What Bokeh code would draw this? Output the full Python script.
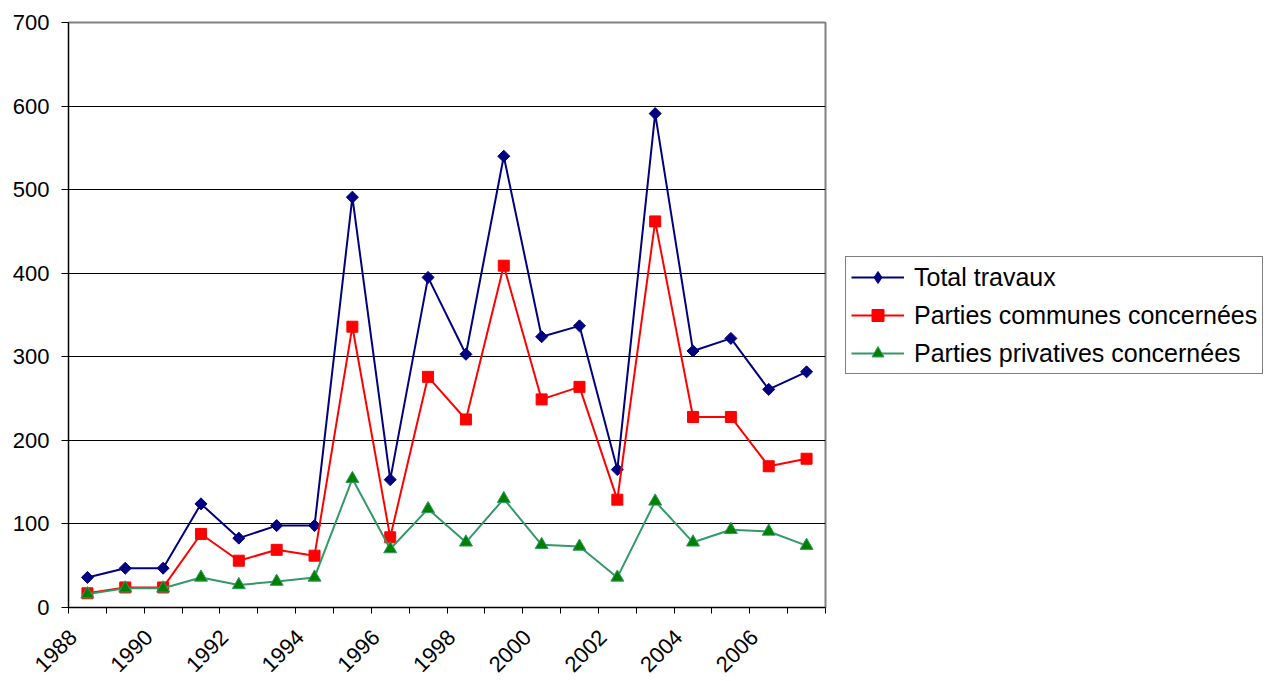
import math
from bokeh.plotting import figure
from bokeh.layouts import row
from bokeh.models import FixedTicker, Legend, LegendItem, Range1d
from bokeh.embed import file_html
from bokeh.resources import INLINE

# ---- data ----
years = [1988, 1989, 1990, 1991, 1992, 1993, 1994, 1995, 1996, 1997,
         1998, 1999, 2000, 2001, 2002, 2003, 2004, 2005, 2006, 2007]
total_travaux = [36, 47, 47, 124, 83, 98, 98, 491, 153, 395,
                 303, 540, 324, 337, 165, 591, 307, 322, 261, 282]
parties_communes = [17, 24, 24, 88, 56, 69, 62, 336, 84, 276,
                    225, 409, 249, 264, 129, 462, 228, 228, 169, 178]
parties_privatives = [16, 23, 23, 36, 27, 31, 36, 154, 70, 118,
                      78, 130, 75, 73, 36, 127, 78, 93, 91, 74]

x_tick_years = [1988, 1990, 1992, 1994, 1996, 1998, 2000, 2002, 2004, 2006]
x_tick_labels = ["1988", "1990", "1992", "1994", "1996", "1998", "2000", "2002", "2004", "2006"]
y_ticks = [0, 100, 200, 300, 400, 500, 600, 700]
grid_ticks = [100, 200, 300, 400, 500, 600]
series_names = ["Total travaux", "Parties communes concernées", "Parties privatives concernées"]

FONT = "Liberation Sans"
navy, red, green_line, green_fill = "#000080", "#FF0000", "#339966", "#008000"

# ---------------- main chart ----------------
p = figure(width=845, height=681, output_backend="svg", toolbar_location=None,
           x_range=Range1d(years[0] - 0.5, years[-1] + 0.5), y_range=Range1d(0, 700),
           min_border_left=68, min_border_right=20, min_border_top=22, min_border_bottom=10)
p.background_fill_color = "white"
p.border_fill_color = "white"
p.outline_line_color = "#808080"
p.outline_line_width = 2

p.xgrid.visible = False
p.ygrid.ticker = FixedTicker(ticks=grid_ticks)
p.ygrid.grid_line_color = "black"
p.ygrid.grid_line_width = 1

# y axis
p.yaxis.ticker = FixedTicker(ticks=y_ticks)
p.yaxis.axis_line_color = "black"
p.yaxis.major_tick_line_color = "black"
p.yaxis.major_tick_out = 7
p.yaxis.major_tick_in = 0
p.yaxis.minor_tick_line_color = None
p.yaxis.major_label_standoff = 12
p.yaxis.major_label_text_font = FONT
p.yaxis.major_label_text_font_size = "22px"
p.yaxis.major_label_text_color = "black"

# x axis: category boundaries as minor ticks; rotated year labels anchored
# slightly left of each category centre (as Excel does)
boundaries = [y - 0.5 for y in years] + [years[-1] + 0.5]
label_pos = [y - 0.38 for y in x_tick_years]
p.xaxis.ticker = FixedTicker(ticks=label_pos, minor_ticks=boundaries)
p.xaxis.major_label_overrides = {pos: l for pos, l in zip(label_pos, x_tick_labels)}
p.xaxis.major_label_orientation = math.pi / 4
p.xaxis.axis_line_color = "black"
p.xaxis.major_tick_out = 0
p.xaxis.major_tick_in = 0
p.xaxis.minor_tick_out = 6
p.xaxis.minor_tick_in = 0
p.xaxis.minor_tick_line_color = "black"
p.xaxis.major_label_standoff = 20
p.xaxis.major_label_text_font = FONT
p.xaxis.major_label_text_font_size = "22px"
p.xaxis.major_label_text_color = "black"

p.line(years, total_travaux, line_color=navy, line_width=2)
p.scatter(years, total_travaux, marker="square", angle=math.pi / 4, size=8.5,
          fill_color=navy, line_color=navy)
p.line(years, parties_communes, line_color=red, line_width=2)
p.scatter(years, parties_communes, marker="square", size=11, fill_color=red, line_color=red)
p.line(years, parties_privatives, line_color=green_line, line_width=2)
p.scatter(years, parties_privatives, marker="triangle", size=13,
          fill_color=green_fill, line_color=green_line)

# ---------------- legend panel (same series, drawn off-range; only legend visible) ----------------
q = figure(width=419, height=681, output_backend="svg", toolbar_location=None,
           x_range=Range1d(0, 1), y_range=Range1d(0, 1),
           x_axis_type=None, y_axis_type=None, min_border=0)
q.outline_line_color = None
q.background_fill_color = "white"
q.border_fill_color = "white"
q.xgrid.visible = False
q.ygrid.visible = False

l1 = q.line(years, total_travaux, line_color=navy, line_width=2)
d1 = q.scatter(years, total_travaux, marker="diamond", size=13, fill_color=navy, line_color=navy)
l2 = q.line(years, parties_communes, line_color=red, line_width=2)
s2 = q.scatter(years, parties_communes, marker="square", size=11, fill_color=red, line_color=red)
l3 = q.line(years, parties_privatives, line_color=green_line, line_width=2)
s3 = q.scatter(years, parties_privatives, marker="triangle", size=13,
               fill_color=green_fill, line_color=green_line)

legend = Legend(items=[
    LegendItem(label=series_names[0], renderers=[l1, d1]),
    LegendItem(label=series_names[1], renderers=[l2, s2]),
    LegendItem(label=series_names[2], renderers=[l3, s3]),
], location=(0, 233))
legend.border_line_color = "black"
legend.border_line_width = 1
legend.background_fill_color = "white"
legend.background_fill_alpha = 1
legend.padding = 5
legend.spacing = 8
legend.margin = 0
legend.glyph_width = 53
legend.glyph_height = 30
legend.label_standoff = 10
legend.label_text_font = FONT
legend.label_text_font_size = "25px"
legend.label_text_color = "black"
q.add_layout(legend)

layout = row(p, q, spacing=0)
open("out.html", "w").write(file_html(layout, INLINE))
